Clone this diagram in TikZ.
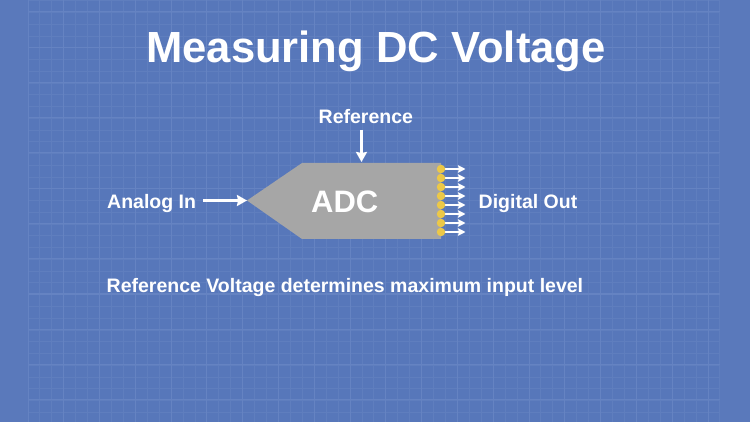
\documentclass[tikz,border=0pt]{standalone}
\usepackage{fontspec}
\setmainfont{Liberation Sans}
\usetikzlibrary{arrows.meta}
\definecolor{bluebg}{RGB}{90,121,187}
\definecolor{bluein}{RGB}{87,119,186}
\definecolor{gridminor}{RGB}{95,126,190}
\definecolor{gridmajor}{RGB}{101,131,194}
\definecolor{adcgray}{RGB}{166,166,166}
\definecolor{dotyellow}{RGB}{236,200,72}
\tikzset{
  x=1pt,y=-1pt,
  label/.style={inner sep=0pt,text=white,font=\bfseries\fontsize{19.5}{21}\selectfont,anchor=base west},
  sig/.style={draw=white,line width=2.6pt,-{Stealth[length=10pt,width=11pt,inset=1pt]}},
  bit/.style={draw=white,line width=1.5pt,-{Stealth[length=7.5pt,width=7.5pt,inset=1pt]}},
  pin/.style={circle,fill=dotyellow,inner sep=0pt,minimum size=8.5pt},
}
\begin{document}
\begin{tikzpicture}
\useasboundingbox (0,0) rectangle (750,422);
\fill[bluebg] (0,0) rectangle (750,422);
\fill[bluein] (28,0) rectangle (720,422);
\foreach \i in {0,...,58}{\draw[gridminor,line width=1pt] ({28+\i*11.93},0) -- ({28+\i*11.93},422);}
\foreach \j in {0,...,35}{\draw[gridminor,line width=1pt] (28,{1+\j*11.75}) -- (720,{1+\j*11.75});}
\foreach \i in {0,3,...,57}{\draw[gridmajor,line width=1pt] ({28+\i*11.93},0) -- ({28+\i*11.93},422);}
\foreach \j in {0,3,...,33}{\draw[gridmajor,line width=1pt] (28,{12+\j*11.75}) -- (720,{12+\j*11.75});}
\node[label,font=\bfseries\fontsize{43.6}{46}\selectfont] (title) at (146,62.5) {Measuring DC Voltage};
\node[label] (ref) at (318.5,124) {Reference};
\node[label] (in) at (107,209) {Analog In};
\node[label] (out) at (478.5,209) {Digital Out};
\node[label] (note) at (106.5,293) {Reference Voltage determines maximum input level};
\fill[adcgray] (247,200.5) -- (302,163) -- (441,163) -- (441,239) -- (302,239) -- cycle;
\coordinate (tip) at (247,200.5);
\coordinate (top) at (361.5,162);
\coordinate (refstart) at (361.5,130);
\coordinate (instart) at (203,200.5);
\draw[sig] (refstart) -- (top);
\draw[sig] (instart) -- (tip);
\node[label,font=\bfseries\fontsize{31}{33}\selectfont] (adc) at (311,213) {ADC};
\foreach \k in {0,...,7}{
  \coordinate (e\k) at (465.5,{169+\k*9});
  \coordinate (s\k) at (441,{169+\k*9});
  \draw[bit] (s\k) -- (e\k);
  \node[pin] (p\k) at (s\k) {};
}
\end{tikzpicture}
\end{document}
